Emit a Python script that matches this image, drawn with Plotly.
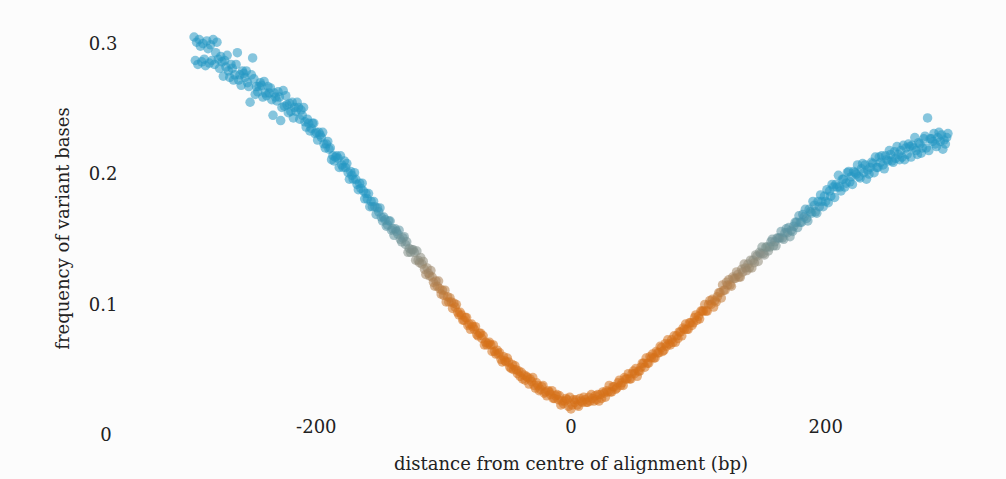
import plotly.graph_objects as go

# Offset of each position from the centre of the alignment (bp)
positions = list(range(-296, 297))

# Frequency of variant bases at each position, -296 .. 296 bp
variant_freq = [
    # -296 .. -277
    0.305, 0.287, 0.301, 0.284, 0.303, 0.298, 0.286, 0.300, 0.288, 0.283,
    0.302, 0.296, 0.285, 0.299, 0.287, 0.303, 0.284, 0.293, 0.301, 0.288,
    # -276 .. -227
    0.281, 0.290, 0.286, 0.275, 0.287, 0.282, 0.291, 0.279, 0.274, 0.284,
    0.281, 0.272, 0.276, 0.284, 0.293, 0.272, 0.276, 0.268, 0.279, 0.277,
    0.274, 0.279, 0.270, 0.267, 0.255, 0.276, 0.289, 0.273, 0.261, 0.267,
    0.263, 0.267, 0.270, 0.268, 0.259, 0.271, 0.262, 0.260, 0.267, 0.262,
    0.266, 0.257, 0.245, 0.262, 0.259, 0.256, 0.263, 0.259, 0.241, 0.251,
    # -226 .. -177
    0.264, 0.252, 0.260, 0.253, 0.247, 0.254, 0.248, 0.255, 0.243, 0.251,
    0.248, 0.255, 0.251, 0.242, 0.249, 0.245, 0.251, 0.240, 0.236, 0.242,
    0.239, 0.233, 0.235, 0.239, 0.239, 0.231, 0.232, 0.226, 0.232, 0.230,
    0.228, 0.232, 0.223, 0.220, 0.223, 0.225, 0.219, 0.220, 0.211, 0.214,
    0.210, 0.213, 0.214, 0.212, 0.205, 0.214, 0.207, 0.205, 0.210, 0.205,
    # -176 .. -127
    0.208, 0.201, 0.196, 0.202, 0.199, 0.196, 0.201, 0.196, 0.192, 0.188,
    0.193, 0.189, 0.193, 0.187, 0.181, 0.185, 0.181, 0.185, 0.175, 0.179,
    0.175, 0.179, 0.175, 0.169, 0.174, 0.171, 0.174, 0.167, 0.164, 0.167,
    0.165, 0.160, 0.161, 0.164, 0.164, 0.157, 0.158, 0.153, 0.158, 0.156,
    0.154, 0.157, 0.150, 0.148, 0.151, 0.152, 0.146, 0.148, 0.140, 0.143,
    # -126 .. -77
    0.140, 0.142, 0.142, 0.140, 0.134, 0.141, 0.134, 0.132, 0.136, 0.131,
    0.133, 0.127, 0.123, 0.128, 0.124, 0.122, 0.126, 0.121, 0.117, 0.114,
    0.118, 0.114, 0.118, 0.112, 0.108, 0.111, 0.107, 0.111, 0.102, 0.106,
    0.102, 0.105, 0.102, 0.097, 0.101, 0.098, 0.100, 0.094, 0.092, 0.094,
    0.092, 0.088, 0.088, 0.090, 0.090, 0.084, 0.085, 0.081, 0.085, 0.083,
    # -76 .. -27
    0.081, 0.083, 0.077, 0.076, 0.078, 0.078, 0.074, 0.076, 0.069, 0.071,
    0.069, 0.070, 0.071, 0.069, 0.064, 0.069, 0.064, 0.062, 0.065, 0.062,
    0.063, 0.058, 0.056, 0.060, 0.057, 0.056, 0.059, 0.056, 0.052, 0.051,
    0.054, 0.050, 0.053, 0.050, 0.047, 0.049, 0.045, 0.048, 0.043, 0.046,
    0.042, 0.045, 0.044, 0.039, 0.043, 0.041, 0.044, 0.038, 0.036, 0.040,
    # -26 .. 23
    0.038, 0.034, 0.035, 0.037, 0.038, 0.032, 0.033, 0.030, 0.034, 0.033,
    0.031, 0.034, 0.028, 0.028, 0.030, 0.031, 0.027, 0.030, 0.023, 0.026,
    0.024, 0.026, 0.028, 0.027, 0.022, 0.029, 0.020, 0.023, 0.027, 0.025,
    0.027, 0.023, 0.022, 0.028, 0.026, 0.025, 0.029, 0.027, 0.025, 0.025,
    0.029, 0.026, 0.031, 0.028, 0.026, 0.030, 0.027, 0.031, 0.026, 0.031,
    # 24 .. 73
    0.028, 0.033, 0.032, 0.029, 0.034, 0.033, 0.038, 0.033, 0.033, 0.037,
    0.037, 0.035, 0.036, 0.040, 0.042, 0.038, 0.040, 0.038, 0.044, 0.043,
    0.043, 0.047, 0.043, 0.043, 0.047, 0.049, 0.047, 0.051, 0.045, 0.049,
    0.049, 0.052, 0.055, 0.055, 0.052, 0.059, 0.055, 0.055, 0.060, 0.059,
    0.062, 0.059, 0.059, 0.064, 0.063, 0.063, 0.068, 0.067, 0.064, 0.065,
    # 74 .. 123
    0.070, 0.068, 0.073, 0.070, 0.069, 0.073, 0.071, 0.076, 0.071, 0.076,
    0.074, 0.079, 0.079, 0.076, 0.082, 0.081, 0.085, 0.081, 0.081, 0.086,
    0.086, 0.084, 0.086, 0.090, 0.092, 0.088, 0.091, 0.089, 0.095, 0.095,
    0.095, 0.100, 0.095, 0.095, 0.100, 0.103, 0.100, 0.104, 0.098, 0.103,
    0.102, 0.106, 0.109, 0.109, 0.105, 0.115, 0.111, 0.111, 0.117, 0.115,
    # 124 .. 173
    0.119, 0.115, 0.114, 0.121, 0.120, 0.120, 0.125, 0.123, 0.121, 0.121,
    0.127, 0.125, 0.131, 0.128, 0.126, 0.131, 0.128, 0.134, 0.128, 0.134,
    0.132, 0.138, 0.137, 0.133, 0.140, 0.139, 0.144, 0.139, 0.138, 0.144,
    0.144, 0.141, 0.144, 0.148, 0.150, 0.145, 0.148, 0.145, 0.151, 0.151,
    0.151, 0.156, 0.151, 0.150, 0.155, 0.158, 0.155, 0.159, 0.152, 0.157,
    # 174 .. 223
    0.156, 0.160, 0.163, 0.163, 0.159, 0.168, 0.163, 0.163, 0.169, 0.167,
    0.173, 0.166, 0.164, 0.173, 0.171, 0.170, 0.179, 0.176, 0.171, 0.170,
    0.179, 0.175, 0.184, 0.179, 0.175, 0.183, 0.179, 0.188, 0.178, 0.187,
    0.183, 0.192, 0.190, 0.182, 0.192, 0.190, 0.199, 0.190, 0.187, 0.196,
    0.196, 0.190, 0.193, 0.201, 0.202, 0.194, 0.198, 0.192, 0.202, 0.201,
    # 224 .. 273
    0.200, 0.207, 0.198, 0.197, 0.204, 0.208, 0.201, 0.207, 0.196, 0.203,
    0.200, 0.205, 0.209, 0.208, 0.201, 0.213, 0.205, 0.205, 0.213, 0.209,
    0.214, 0.207, 0.204, 0.214, 0.211, 0.210, 0.218, 0.215, 0.210, 0.209,
    0.217, 0.212, 0.221, 0.215, 0.211, 0.218, 0.213, 0.222, 0.211, 0.220,
    0.215, 0.223, 0.221, 0.213, 0.222, 0.220, 0.228, 0.218, 0.215, 0.224,
    # 274 .. 296
    0.223, 0.216, 0.220, 0.227, 0.229, 0.220, 0.243, 0.218, 0.227, 0.227,
    0.225, 0.231, 0.223, 0.221, 0.228, 0.232, 0.225, 0.230, 0.219, 0.226,
    0.223, 0.228, 0.231,
]

x_ticks = [-200, 0, 200]
x_tick_text = ["-200", "0", "200"]
y_ticks = [0, 0.1, 0.2, 0.3]
y_tick_text = ["0\u2008", "0.1", "0.2", "0.3"]

# Points shade from orange (low variation) through grey to blue (high variation)
colour_scale = [[0.0, "#d5711a"], [0.5, "#878d83"], [1.0, "#2597c2"]]

FONT = "DejaVu Serif"

fig = go.Figure(
    go.Scatter(
        x=positions,
        y=variant_freq,
        mode="markers",
        marker=dict(
            size=9.5,
            color=variant_freq,
            colorscale=colour_scale,
            cmin=0.095,
            cmax=0.18,
            opacity=0.55,
            line=dict(width=0),
        ),
        hoverinfo="x+y",
        showlegend=False,
    )
)

fig.update_layout(
    width=1006,
    height=479,
    margin=dict(l=150, r=14, t=10, b=32),
    paper_bgcolor="#fcfcfc",
    plot_bgcolor="#fcfcfc",
    font=dict(family=FONT, size=18, color="#222222"),
    xaxis=dict(
        range=[-330.6, 330.6],
        tickvals=x_ticks,
        ticktext=x_tick_text,
        showgrid=False,
        zeroline=False,
        showline=False,
        ticks="",
        anchor="free",
        position=0.075,
        title=dict(text="distance from centre of alignment (bp)", standoff=21,
                   font=dict(family=FONT, size=18)),
        automargin=False,
    ),
    yaxis=dict(
        range=[-0.0092, 0.3257],
        tickvals=y_ticks,
        ticktext=y_tick_text,
        showgrid=False,
        zeroline=False,
        showline=False,
        ticks="outside",
        ticklen=28,
        tickcolor="rgba(0,0,0,0)",
        title=dict(text="frequency of variant bases", standoff=14,
                   font=dict(family=FONT, size=18)),
        automargin=False,
    ),
)

fig.write_html("out.html")
